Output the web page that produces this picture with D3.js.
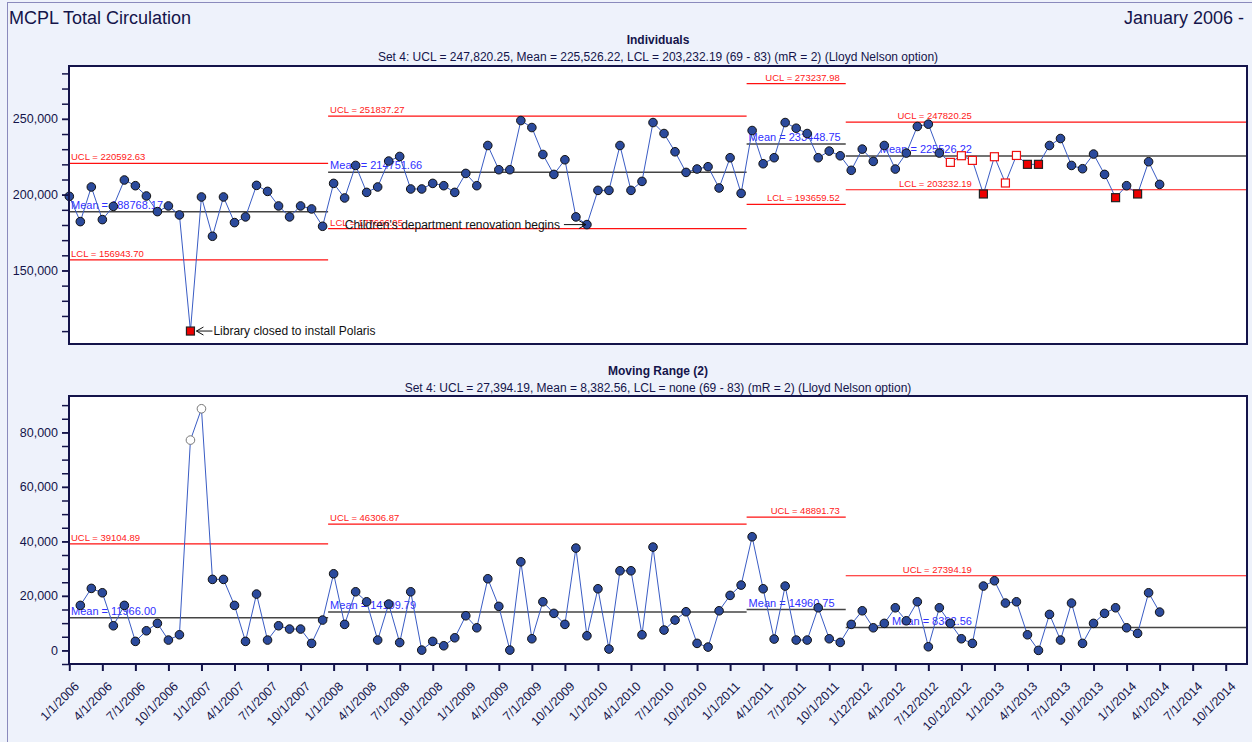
<!DOCTYPE html>
<html>
<head>
<meta charset="utf-8">
<script src="https://cdn.jsdelivr.net/npm/d3@7"></script>
<style>
  body { margin: 0; background: #eef2fb; }
  svg text { font-family: 'Liberation Sans', Arial, sans-serif; }
</style>
</head>
<body>
<svg id="chart" width="1252" height="742"></svg>
<script>
// monthly totals, Jan 2006 .. Apr 2014
const individuals = [
  198900, 182230, 205070, 183550, 192300, 209670, 205920, 199140, 188810, 192560,
  186630, 110050, 198480, 172560, 198480, 181580, 185330, 206120, 202170, 192560,
  185330, 192560, 190590, 179140, 207440, 197830, 219280, 201510, 205070, 222170,
  225200, 203750, 203750, 207440, 205920, 201510, 214020, 205920, 232440, 216450,
  216450, 248890, 244280, 226520, 213360, 223030, 185330, 180260, 202830, 202830,
  232440, 202830, 208750, 247570, 240330, 228290, 214690, 216920, 218440, 204410,
  224370, 200860, 242310, 220400, 224370, 247570, 243830, 240330, 224370, 228750,
  225650, 216060, 230060, 221950, 232440, 216900, 227430, 244990, 246510, 227450,
  221290, 225700, 222610, 200460, 225030, 207700, 225870, 220000, 220000, 232440,
  237040, 219280, 217110, 226780, 213360, 198030, 205920, 200460, 221730, 206780
];

// moving range, Feb 2006 .. Apr 2014
const movingRange = [
  16510, 22750, 21140, 9030, 16510, 3300, 7190, 9910, 3780, 5720,
  77170, 88660, 26050, 26050, 16510, 3300, 20660, 3780, 9030, 7820,
  7820, 2570, 11120, 28110, 9540, 21500, 17830, 3780, 16990, 2860,
  21500, 100, 3300, 1690, 4620, 12700, 8290, 26280, 16150, 100,
  32510, 4260, 17830, 13580, 9540, 37540, 5360, 22610, 480, 29210,
  29210, 5720, 37910, 7450, 11120, 14170, 2570, 1210, 14530, 20180,
  23960, 41690, 22610, 4150, 23600, 3780, 3780, 15630, 4260, 2930,
  9540, 14530, 8290, 9910, 15630, 10860, 17830, 1320, 15630, 9910,
  4260, 2570, 23600, 25540, 17360, 17830, 5720, 0, 13210, 3780,
  17360, 2570, 9910, 13580, 15630, 8290, 6240, 21140, 14050
];

const tickLabels = [
  '1/1/2006', '4/1/2006', '7/1/2006', '10/1/2006', '1/1/2007', '4/1/2007', '7/1/2007', '10/1/2007',
  '1/1/2008', '4/1/2008', '7/1/2008', '10/1/2008', '1/1/2009', '4/1/2009', '7/1/2009', '10/1/2009',
  '1/1/2010', '4/1/2010', '7/1/2010', '10/1/2010', '1/1/2011', '4/1/2011', '7/1/2011', '10/1/2011',
  '1/12/2012', '4/1/2012', '7/12/2012', '10/12/2012', '1/1/2013', '4/1/2013', '7/1/2013', '10/1/2013',
  '1/1/2014', '4/1/2014', '7/1/2014', '10/1/2014'
];

// phases (month index of first / last point)
const phaseFirst = [0, 24, 62, 71];
const phaseLast = [23, 61, 70, 99];

const indUcl = [220592.63, 251837.27, 273237.98, 247820.25];
const indMean = [188768.17, 214751.66, 233448.75, 225526.22];
const indLcl = [156943.70, 177666.05, 193659.52, 203232.19];

const mrUcl = [39104.89, 46306.87, 48891.73, 27394.19];
const mrMean = [11966.00, 14109.79, 14960.75, 8382.56];

const redFilled = [11, 83, 87, 88, 95, 97];
const redOpen = [80, 81, 82, 84, 85, 86];
const mrOpen = [11, 12];

const notes = [
  { month: 11, text: 'Library closed to install Polaris', side: 'right' },
  { month: 47, text: "Children's department renovation begins", side: 'left' },
];

const indTitle = 'Individuals';
const indSubtitle = 'Set 4: UCL = 247,820.25, Mean = 225,526.22, LCL = 203,232.19 (69 - 83) (mR = 2) (Lloyd Nelson option)';
const mrTitle = 'Moving Range (2)';
const mrSubtitle = 'Set 4: UCL = 27,394.19, Mean = 8,382.56, LCL = none (69 - 83) (mR = 2) (Lloyd Nelson option)';

// ---- layout ----
const NAVY = '#14144a';
const LINE = '#3a5cc4';
const DOT = '#2b4a9c';
const plotL = 69, plotR = 1247;
const labelEndAt = [null, null, 70.5, 82.5];
const meanSide = ['start', 'start', 'start', 'end'];

const svg = d3.select('#chart');
const x = d3.scaleLinear().domain([0, 105]).range([69.3, 1225.7]);

svg.append('rect').attr('x', 7.5).attr('y', 2.5).attr('width', 1300).attr('height', 800)
  .attr('fill', '#eef2fb').attr('stroke', '#8a8abc');

svg.append('text').attr('x', 9).attr('y', 24).attr('font-size', 18).attr('fill', NAVY).text('MCPL Total Circulation');
svg.append('text').attr('x', 1244).attr('y', 24).attr('font-size', 18).attr('fill', NAVY)
  .attr('text-anchor', 'end').text('January 2006 -');

function phaseX(p) {
  const x0 = Math.max(plotL, x(phaseFirst[p] - 0.5));
  const x1 = p === phaseFirst.length - 1 ? plotR : x(phaseLast[p] + 0.5);
  return [x0, x1];
}

function labelX(p, side) {
  if (side === 'start') return phaseX(p)[0] + 2;
  return x(labelEndAt[p]) - 6;
}

function drawTitles(top, title, subtitle) {
  const cx = (plotL + plotR) / 2;
  svg.append('text').attr('x', cx).attr('y', top).attr('text-anchor', 'middle')
    .attr('font-size', 12).attr('font-weight', 'bold').attr('fill', NAVY).text(title);
  svg.append('text').attr('x', cx).attr('y', top + 17).attr('text-anchor', 'middle')
    .attr('font-size', 12).attr('fill', NAVY).text(subtitle);
}

function drawFrame(y, fill) {
  const [b, t] = y.range();
  if (fill) {
    svg.append('rect').attr('x', plotL).attr('y', t).attr('width', plotR - plotL).attr('height', b - t).attr('fill', '#fff');
  } else {
    svg.append('rect').attr('x', plotL).attr('y', t).attr('width', plotR - plotL).attr('height', b - t)
      .attr('fill', 'none').attr('stroke', NAVY).attr('stroke-width', 2);
  }
}

function drawYAxis(y, major, minor) {
  const g1 = svg.append('g').attr('transform', `translate(${plotL},0)`)
    .call(d3.axisLeft(y).tickValues(minor).tickSize(7).tickFormat(''));
  g1.select('.domain').remove();
  g1.selectAll('line').attr('stroke', NAVY).attr('stroke-width', 1.5);
  const g2 = svg.append('g').attr('transform', `translate(${plotL},0)`)
    .call(d3.axisLeft(y).tickValues(major).tickSize(7).tickPadding(4).tickFormat(d3.format(',')));
  g2.select('.domain').remove();
  g2.selectAll('line').attr('stroke', NAVY).attr('stroke-width', 1.5);
  g2.selectAll('text').attr('font-size', 12.5).attr('fill', NAVY).style('font-family', "'Liberation Sans', Arial, sans-serif");
}

function drawLimit(y, values, p, color, width) {
  const [x0, x1] = phaseX(p);
  svg.append('line').attr('x1', x0).attr('x2', x1).attr('y1', y(values[p])).attr('y2', y(values[p]))
    .attr('stroke', color).attr('stroke-width', width);
}

function limitLabel(y, value, p, side, text, color, size) {
  svg.append('text').attr('x', labelX(p, side)).attr('y', y(value) - 3)
    .attr('text-anchor', side).attr('font-size', size).attr('fill', color).text(text);
}

function drawLimits(y, ucl, mean, lcl) {
  phaseFirst.forEach((_, p) => {
    drawLimit(y, ucl, p, '#ff1010', 1.2);
    drawLimit(y, mean, p, '#444', 1.5);
    if (lcl) drawLimit(y, lcl, p, '#ff1010', 1.2);
  });
}

function drawLimitLabels(y, ucl, mean, lcl) {
  phaseFirst.forEach((_, p) => {
    const side = labelEndAt[p] === null ? 'start' : 'end';
    limitLabel(y, ucl[p], p, side, `UCL = ${ucl[p].toFixed(2)}`, '#ff2020', 9.5);
    if (lcl) limitLabel(y, lcl[p], p, side, `LCL = ${lcl[p].toFixed(2)}`, '#ff2020', 9.5);
    limitLabel(y, mean[p], p, meanSide[p], `Mean = ${mean[p].toFixed(2)}`, '#3030ff', 11);
  });
}

function drawSeries(y, points) {
  svg.append('path').datum(points)
    .attr('fill', 'none').attr('stroke', LINE).attr('stroke-width', 1)
    .attr('d', d3.line().x((d) => x(d.m)).y((d) => y(d.v)));
}

function drawMarkers(y, points, filledSq, openSq, openDot) {
  const g = svg.append('g');
  const dots = points.filter((d) => !filledSq.includes(d.m) && !openSq.includes(d.m));
  g.selectAll('circle').data(dots).join('circle')
    .attr('cx', (d) => x(d.m)).attr('cy', (d) => y(d.v)).attr('r', 4.3)
    .attr('fill', (d) => (openDot.includes(d.m) ? '#fff' : DOT))
    .attr('stroke', (d) => (openDot.includes(d.m) ? '#777' : '#111'))
    .attr('stroke-width', 1);
  const sq = points.filter((d) => filledSq.includes(d.m) || openSq.includes(d.m));
  g.selectAll('rect').data(sq).join('rect')
    .attr('x', (d) => x(d.m) - 4).attr('y', (d) => y(d.v) - 4).attr('width', 8).attr('height', 8)
    .attr('fill', (d) => (filledSq.includes(d.m) ? '#ee0000' : '#fff'))
    .attr('stroke', (d) => (filledSq.includes(d.m) ? '#222' : '#ee1111'))
    .attr('stroke-width', 1.2);
}

function drawNotes(y, points) {
  notes.forEach((n) => {
    const cx = x(n.month), cy = y(points[n.month].v);
    const g = svg.append('g').attr('stroke', '#111').attr('stroke-width', 1);
    if (n.side === 'right') {
      const tip = cx + 6;
      g.append('line').attr('x1', tip).attr('x2', tip + 16).attr('y1', cy).attr('y2', cy);
      g.append('polyline').attr('fill', 'none').attr('points', `${tip + 7},${cy - 4} ${tip},${cy} ${tip + 7},${cy + 4}`);
      svg.append('text').attr('x', tip + 17).attr('y', cy + 4).attr('font-size', 12).attr('fill', '#111').text(n.text);
    } else {
      const tip = cx - 1;
      g.append('line').attr('x1', tip - 22).attr('x2', tip).attr('y1', cy).attr('y2', cy);
      g.append('polyline').attr('fill', 'none').attr('points', `${tip - 7},${cy - 4} ${tip},${cy} ${tip - 7},${cy + 4}`);
      svg.append('text').attr('x', tip - 26).attr('y', cy + 4.5).attr('text-anchor', 'end')
        .attr('font-size', 12).attr('fill', '#111').text(n.text);
    }
  });
}

function renderIndividuals() {
  const y = d3.scaleLinear().domain([101500, 284870]).range([344, 66]);
  const points = individuals.map((v, i) => ({ m: i, v }));
  drawTitles(44, indTitle, indSubtitle);
  drawFrame(y, true);
  drawLimits(y, indUcl, indMean, indLcl);
  drawLimitLabels(y, indUcl, indMean, indLcl);
  drawSeries(y, points);
  drawMarkers(y, points, redFilled, redOpen, []);
  drawNotes(y, points);
  drawFrame(y, false);
  drawYAxis(y, [150000, 200000, 250000], d3.range(110000, 284000, 10000));
}

function renderMovingRange() {
  const y = d3.scaleLinear().domain([-5000, 93350]).range([664, 396]);
  const points = movingRange.map((v, i) => ({ m: i + 1, v }));
  drawTitles(375, mrTitle, mrSubtitle);
  drawFrame(y, true);
  drawLimits(y, mrUcl, mrMean, null);
  drawLimitLabels(y, mrUcl, mrMean, null);
  drawSeries(y, points);
  drawMarkers(y, points, [], [], mrOpen);
  drawFrame(y, false);
  drawYAxis(y, [0, 20000, 40000, 60000, 80000], d3.range(-5000, 93000, 5000));

  const ticks = tickLabels.map((_, i) => i * 3);
  const gx = svg.append('g').attr('transform', 'translate(0,664)')
    .call(d3.axisBottom(x).tickValues(ticks).tickSize(7).tickFormat((d) => tickLabels[d / 3]));
  gx.select('.domain').remove();
  gx.selectAll('line').attr('stroke', NAVY).attr('stroke-width', 2);
  gx.selectAll('text')
    .attr('x', 0).attr('y', 0).attr('dy', '0.35em')
    .attr('transform', 'translate(7,20) rotate(-45)')
    .style('text-anchor', 'end')
    .attr('font-size', 12.5).attr('fill', NAVY)
    .style('font-family', "'Liberation Sans', Arial, sans-serif");
}

renderIndividuals();
renderMovingRange();
</script>
</body>
</html>
